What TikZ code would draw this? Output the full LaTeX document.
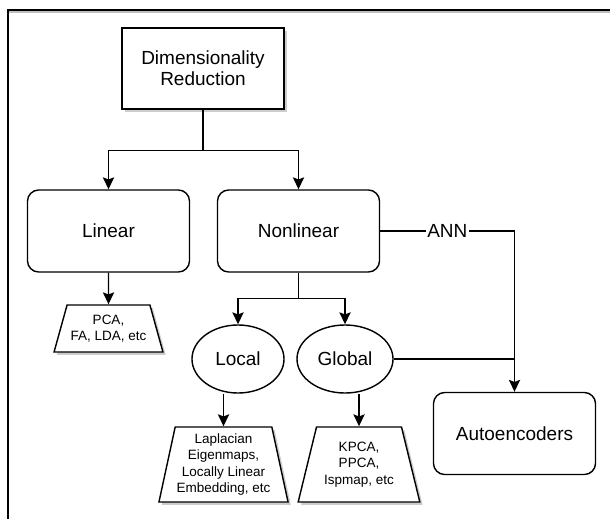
\documentclass[tikz,border=0pt]{standalone}
\usepackage{fontspec}
\setmainfont{Liberation Sans}
\usetikzlibrary{shapes.geometric,arrows.meta,shadows}

\begin{document}
\begin{tikzpicture}[x=0.025cm,y=-0.025cm,
    box/.style={draw,line width=1pt,fill=white,minimum width=4.05cm,minimum height=2.05cm,align=center,font=\fontsize{13.5}{15}\selectfont},
    roundbox/.style={box,rounded corners=0.28cm},
    oval/.style={draw,ellipse,line width=1pt,minimum height=1.7cm,font=\fontsize{13.5}{15}\selectfont},
    trap/.style={draw,trapezium,trapezium stretches=true,line width=1pt,fill=white,align=center,inner sep=1pt,font=\fontsize{9.6}{11.8}\selectfont},
    shade/.style={drop shadow={shadow xshift=2pt,shadow yshift=-2pt,draw=none,fill=black!20,opacity=1}},
    arr/.style={line width=1pt,-{Stealth[length=8.5pt,width=8pt,inset=1.5pt]}},
    link/.style={line width=1pt}]
       \useasboundingbox (0,0) rectangle (610,519);
       \draw[black!25,line width=1.2pt] (8,12) to (610,12);
       \draw[line width=1.1pt] (610,10) to (8,10) to (8,519);

       \node[box,shade,minimum height=2.025cm] (dimred) at (203,68.5) {Dimensionality\\Reduction};
       \node[roundbox] (linear) at (108.5,231) {Linear};
       \node[roundbox] (nonlinear) at (298.5,231) {Nonlinear};
       \node[roundbox] (autoenc) at (514.5,433.5) {Autoencoders};
       \node[oval,minimum width=2.3cm] (local) at (238,359) {Local};
       \node[oval,minimum width=2.4cm] (global) at (345,359) {Global};
       \node[trap,shade,trapezium angle=68,minimum width=2.725cm,minimum height=1.175cm] (pca) at (108.5,328.5) {PCA,\\FA, LDA, etc};
       \node[trap,shade,trapezium angle=76,minimum width=3.075cm,minimum height=1.875cm] (lapl) at (223.5,464.5) {Laplacian\\Eigenmaps,\\Locally Linear\\Embedding, etc};
       \node[trap,shade,trapezium angle=72,minimum width=3.05cm,minimum height=1.875cm] (kpca) at (359,464.5) {KPCA,\\PPCA,\\Ispmap, etc};

       \draw[arr] (dimred.south) to ++(0,41) -| (linear.north);
       \draw[arr] (dimred.south) to ++(0,41) -| (nonlinear.north);
       \draw[arr] (linear.south) to (pca.north);
       \draw[arr] (nonlinear.south) to ++(0,26) -| (local.north);
       \draw[arr] (nonlinear.south) to ++(0,26) -| (global.north);
       \draw[arr] (local.south -| lapl.north) to (lapl.north);
       \draw[arr] (global.south -| kpca.north) to (kpca.north);
       \draw[arr] (nonlinear.east) -| node[pos=0.25,fill=white,inner sep=1pt,font=\fontsize{13.5}{15}\selectfont] (ann) {ANN} (autoenc.north);
       \draw[link] (global.east) to (global.east -| autoenc.north);
     \end{tikzpicture}
\end{document}
